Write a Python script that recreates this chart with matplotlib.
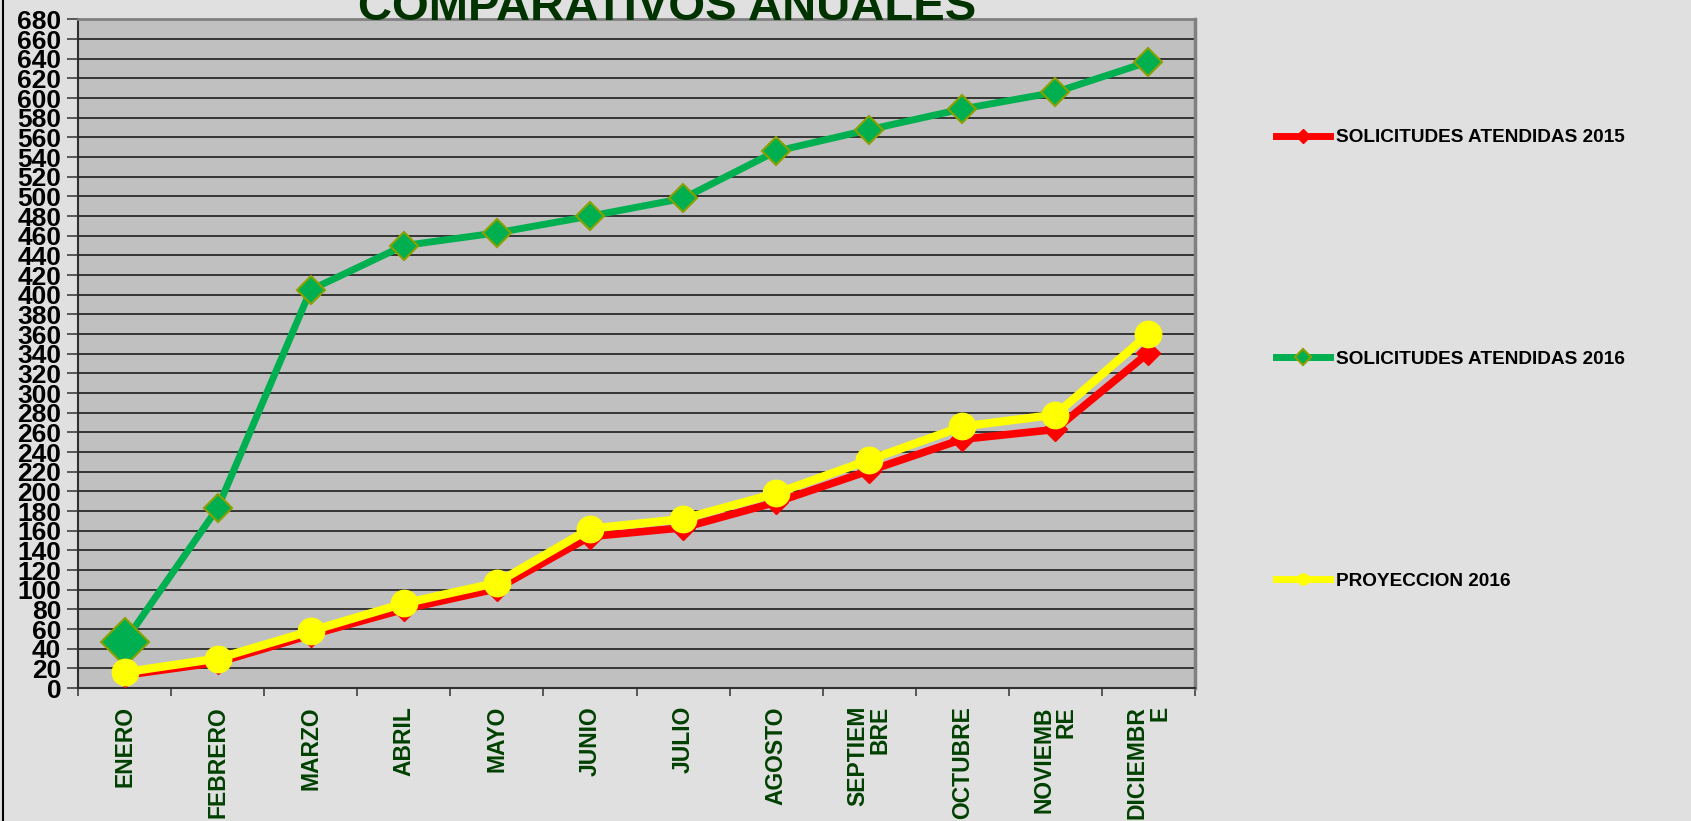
import matplotlib
matplotlib.use("Agg")
import matplotlib.pyplot as plt
from matplotlib.lines import Line2D
import numpy as np

months = ["ENERO", "FEBRERO", "MARZO", "ABRIL", "MAYO", "JUNIO", "JULIO",
          "AGOSTO", "SEPTIEM\nBRE", "OCTUBRE", "NOVIEMB\nRE", "DICIEMBR\nE"]
sol_2015 = [13, 26, 54, 80, 101, 154, 163, 189, 221, 253, 263, 341]
sol_2016 = [47, 183, 405, 450, 463, 480, 498, 546, 568, 589, 606, 637]
proy_2016 = [16, 30, 58, 86, 107, 162, 172, 198, 232, 266, 278, 360]
yticks = list(range(0, 681, 20))
series_labels = ["SOLICITUDES ATENDIDAS 2015", "SOLICITUDES ATENDIDAS 2016", "PROYECCION 2016"]

W, H = 1691, 821
fig = plt.figure(figsize=(W / 100, H / 100), dpi=100)
fig.patch.set_facecolor("#e0e0e0")

ax = fig.add_axes([78 / W, 1 - 688 / H, (1195 - 78) / W, (688 - 19.5) / H])
ax.set_facecolor("#c0c0c0")

x = np.arange(len(months))
ax.set_xlim(-0.5, len(months) - 0.5)
ax.set_ylim(0, 680)

for v in yticks[1:]:
    ax.axhline(v, color="#2a2a2a", lw=1.3, zorder=1)

ax.plot(x, sol_2015, color="#ff0000", lw=5.5, marker="D", markersize=12,
        markerfacecolor="#ff0000", markeredgecolor="#ff0000", zorder=3)
ax.plot(x, sol_2016, color="#00b050", lw=5, marker="D", markersize=14,
        markerfacecolor="#00b050", markeredgecolor="#8aa000", markeredgewidth=1.5, zorder=4)
ax.plot(x[:1], sol_2016[:1], linestyle="none", marker="D", markersize=24,
        markerfacecolor="#00b050", markeredgecolor="#8aa000", markeredgewidth=1.5, zorder=4)
ax.plot(x, proy_2016, color="#ffff00", lw=6, marker="o", markersize=19,
        markerfacecolor="#ffff00", markeredgecolor="#ffff00", zorder=5)

ax.set_yticks(yticks)
ax.set_yticklabels([str(v) for v in yticks], fontfamily="Liberation Sans",
                   fontweight="bold", fontsize=19)
ax.tick_params(axis="y", length=8, width=1.2, color="#404040", pad=4)

ax.set_xticks(x)
ax.set_xticklabels(months, rotation=90, fontfamily="Liberation Sans", fontweight="bold",
                   fontsize=16.5, color="#004000", va="top", ha="center", ma="right",
                   linespacing=0.95)
ax.tick_params(axis="x", length=0, pad=13)
ax.set_xticks(np.arange(-0.5, len(months), 1.0), minor=True)
ax.tick_params(axis="x", which="minor", length=6, width=1.2, color="#404040")

for s in ["left", "bottom"]:
    ax.spines[s].set_color("#303030")
    ax.spines[s].set_linewidth(1.5)
ax.spines["right"].set_color("#808080")
ax.spines["right"].set_linewidth(2.5)
ax.spines["top"].set_color("#808080")
ax.spines["top"].set_linewidth(2)

fig.text(667 / W, 1 - 20.5 / H, "COMPARATIVOS ANUALES", ha="center", va="baseline",
         fontfamily="Liberation Sans", fontweight="bold", fontsize=34, color="#003300")

handles = [
    Line2D([], [], color="#ff0000", lw=5, marker="D", markersize=7,
           markerfacecolor="#ff0000", markeredgecolor="#ff0000"),
    Line2D([], [], color="#00b050", lw=5, marker="D", markersize=8,
           markerfacecolor="#00b050", markeredgecolor="#8aa000", markeredgewidth=1.5),
    Line2D([], [], color="#ffff00", lw=5, marker="o", markersize=8,
           markerfacecolor="#ffff00", markeredgecolor="#ffff00"),
]
leg = fig.legend(handles, series_labels, loc="upper left",
                 bbox_to_anchor=(1276 / W, 1 - 129 / H), frameon=False,
                 prop={"family": "Liberation Sans", "weight": "bold", "size": 13.7},
                 handlelength=2.85, handletextpad=0.28, labelspacing=10.74,
                 borderpad=0, borderaxespad=0)

fig.add_artist(Line2D([2.5 / W, 2.5 / W], [0, 1], color="#000000", lw=1.5,
                      transform=fig.transFigure))

fig.savefig("out.png", dpi=100, facecolor=fig.get_facecolor())
